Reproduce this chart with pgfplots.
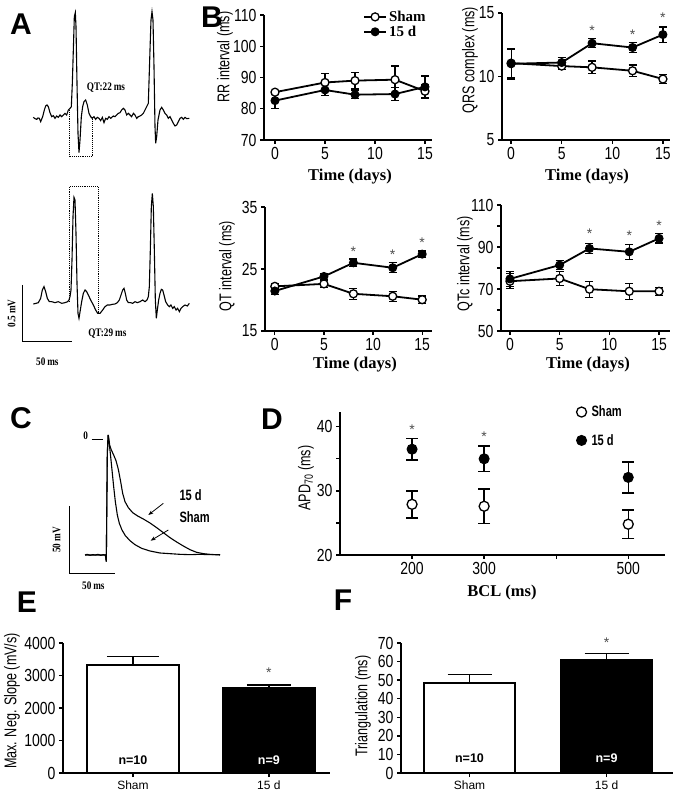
\documentclass[border=0pt]{standalone}
\usepackage{fontspec}
\usepackage{pgfplots}
\pgfplotsset{compat=1.18}
\usetikzlibrary{arrows.meta}
\setmainfont{Liberation Serif}
\setsansfont{Liberation Sans}
\newfontfamily\narrow[FakeStretch=0.74]{Liberation Sans}
\newfontfamily\ticknarrow[FakeStretch=0.8]{Liberation Sans}
\newfontfamily\narrowserif[FakeStretch=0.8]{Liberation Serif}
\newcommand{\tickfont}{\fontsize{17.5}{17.5}\selectfont\ticknarrow}
\newcommand{\yfont}{\fontsize{17}{17}\selectfont\narrow}
\newcommand{\tfont}{\fontsize{16.5}{16.5}\selectfont\rmfamily\bfseries}
\newcommand{\letterfont}{\fontsize{30}{30}\selectfont\sffamily\bfseries}
\newcommand{\legserif}{\fontsize{15}{15}\selectfont\rmfamily\bfseries}
\newcommand{\legsans}{\fontsize{15}{15}\selectfont\narrow\bfseries}
\newcommand{\catfont}{\fontsize{12}{12}\selectfont\sffamily}
\newcommand{\nfont}{\fontsize{12.5}{12.5}\selectfont\sffamily\bfseries}
\newcommand{\qtfont}{\fontsize{11.5}{11.5}\selectfont\narrowserif\bfseries}
\newcommand{\sigfont}{\fontsize{14}{14}\selectfont\sffamily}
\definecolor{stargray}{gray}{0.3}

\pgfplotsset{
  prism/.style={
    scale only axis,
    axis lines*=left,
    axis line style={line width=1.8pt,-},
    tick style={black,line width=1.3pt},
    tick align=outside,
    major tick length=4pt,
    minor tick length=4pt,
    tick label style={font=\tickfont},
    /pgf/number format/assume math mode=true,
    /pgf/number format/1000 sep={},
    scaled ticks=false,
    clip=false,
  },
  linechart/.style={prism, xtick={0,5,10,15}},
  shamline/.style={black, line width=1.8pt, mark=*, mark size=4pt,
    mark options={fill=white, draw=black, line width=1.3pt, solid},
    error bars/y dir=both, error bars/y explicit,
    error bars/error bar style={line width=1.2pt, black},
    error bars/error mark options={rotate=90, mark size=4pt, line width=1.2pt, black}},
  dline/.style={black, line width=1.8pt, mark=*, mark size=4pt,
    mark options={fill=black, draw=black, line width=1pt, solid},
    error bars/y dir=both, error bars/y explicit,
    error bars/error bar style={line width=1.2pt, black},
    error bars/error mark options={rotate=90, mark size=4pt, line width=1.2pt, black}},
  ov/.style={scale only axis, hide axis, clip=false, y dir=reverse},
}

\begin{document}
\begin{tikzpicture}
\useasboundingbox (0pt,0pt) rectangle (676pt,800pt);

% ---------------- overlay: letters and labels (px coords) ----------------
\begin{axis}[ov, at={(0pt,0pt)}, anchor=south west, width=676pt, height=800pt,
  xmin=0, xmax=676, ymin=0, ymax=800]
\addplot[draw=none] coordinates {(0,0)};
\node[font=\letterfont] at (axis cs:21,24) {A};
\node[font=\letterfont] at (axis cs:212,17) {B};
\node[font=\letterfont] at (axis cs:21,418) {C};
\node[font=\letterfont] at (axis cs:272,419) {D};
\node[font=\letterfont] at (axis cs:27,602) {E};
\node[font=\letterfont] at (axis cs:343,600) {F};
% B labels
\node[font=\yfont, rotate=90] at (axis cs:225,57) {RR interval (ms)};
\node[font=\yfont, rotate=90] at (axis cs:470,60) {QRS complex (ms)};
\node[font=\yfont, rotate=90] at (axis cs:227,266) {QT interval (ms)};
\node[font=\yfont, rotate=90] at (axis cs:465,264) {QTc interval (ms)};
\node[font=\tfont] at (axis cs:350,177) {Time (days)};
\node[font=\tfont] at (axis cs:587,177) {Time (days)};
\node[font=\tfont] at (axis cs:355,365) {Time (days)};
\node[font=\tfont] at (axis cs:588,365) {Time (days)};
% D labels
\node[font=\yfont, rotate=90] at (axis cs:306,478) {APD\textsubscript{70} (ms)};
\node[font=\tfont] at (axis cs:502,593) {BCL (ms)};
% E F labels
\node[font=\yfont, rotate=90] at (axis cs:12,701) {Max. Neg. Slope (mV/s)};
\node[font=\yfont, rotate=90] at (axis cs:363,706) {Triangulation (ms)};
\end{axis}

% ---------------- Panel A traces (zoom units: 3 per px) ----------------
\begin{axis}[ov, at={(0pt,380pt)}, anchor=south west, width=200pt, height=420pt,
  xmin=0, xmax=600, ymin=0, ymax=1260]
\addplot[black, line width=1.1pt] coordinates {
(100,352)(105,356)(110,358)(114,354)(118,355)(122,365)(128,350)(133,330)(137,318)(141,315)(145,320)(150,338)(155,350)(160,347)(165,355)(170,348)(175,352)(180,345)(185,350)(190,345)(195,340)(200,345)(205,330)(210,325)(214,320)(217,250)(220,150)(223,50)(226,38)(228,80)(231,250)(234,400)(237,458)(240,420)(244,350)(248,320)(252,305)(257,300)(262,315)(267,340)(272,350)(277,355)(282,350)(287,358)(292,352)(297,355)(302,362)(307,352)(312,368)(317,355)(322,358)(327,350)(332,355)(340,348)(345,350)(350,345)(355,340)(360,338)(365,330)(370,325)(375,330)(380,345)(385,340)(390,345)(395,350)(400,340)(405,345)(410,355)(415,350)(420,348)(425,345)(430,340)(435,330)(440,320)(445,310)(450,150)(453,60)(456,35)(459,60)(462,200)(465,380)(467,430)(470,410)(474,360)(480,330)(485,322)(490,330)(495,340)(500,345)(505,355)(510,350)(515,360)(520,370)(525,378)(530,375)(535,365)(540,355)(545,352)(550,358)(555,352)(560,356)(568,355)};
\addplot[black, line width=1.1pt] coordinates {
(100,912)(108,910)(115,908)(122,895)(127,870)(132,860)(137,875)(142,895)(148,905)(155,905)(165,908)(175,905)(185,910)(195,908)(203,905)(207,900)(210,890)(213,870)(216,780)(219,650)(222,592)(225,600)(228,700)(231,850)(234,940)(237,955)(241,930)(245,905)(250,880)(255,870)(260,875)(265,885)(272,900)(280,915)(287,930)(293,940)(300,940)(308,930)(315,920)(322,915)(330,915)(337,913)(345,912)(352,908)(358,900)(363,885)(368,870)(372,865)(376,880)(380,900)(385,908)(392,908)(398,910)(405,905)(412,908)(420,905)(428,900)(435,905)(441,900)(445,890)(448,860)(451,750)(454,620)(457,580)(460,620)(463,750)(466,900)(469,955)(472,930)(476,900)(480,880)(484,868)(488,870)(492,885)(497,905)(503,915)(508,920)(513,915)(518,925)(523,920)(528,930)(533,925)(538,935)(543,925)(548,920)(555,915)(562,918)(568,910)};
\addplot[black, line width=0.9pt, densely dotted] coordinates {(208,330)(208,470)(278,470)(278,350)};
\addplot[black, line width=0.9pt, densely dotted] coordinates {(208,905)(208,560)(295,560)(295,938)};
\addplot[black, line width=0.9pt] coordinates {(68,855)(68,1025)(215,1025)};
\node[font=\qtfont] at (axis cs:318,262) {QT:22\,ms};
\node[font=\qtfont] at (axis cs:322,1000) {QT:29\,ms};
\node[font=\qtfont, rotate=90] at (axis cs:35,940) {0.5\,mV};
\node[font=\qtfont] at (axis cs:142,1085) {50\,ms};
\end{axis}

% ---------------- Panel C traces (zoom units) ----------------
\begin{axis}[ov, at={(0pt,200pt)}, anchor=south west, width=220pt, height=180pt,
  xmin=0, xmax=660, ymin=0, ymax=540]
\addplot[black, line width=1.1pt] coordinates {
(255,405)(262,403)(270,406)(278,404)(286,405)(294,403)(302,406)(310,404)(316,405)(319,425)(320,300)(322,100)(324,45)(327,65)(331,100)(336,150)(341,200)(346,245)(352,285)(358,310)(366,330)(376,347)(390,362)(405,374)(425,385)(450,393)(480,399)(510,401)(540,403)(570,404)(600,403)(630,404)(660,404)};
\addplot[black, line width=1.1pt] coordinates {
(255,405)(316,405)(319,425)(320,300)(322,100)(325,45)(329,75)(334,90)(341,105)(348,122)(355,148)(362,185)(368,220)(375,245)(385,263)(398,278)(413,288)(430,297)(450,309)(470,323)(490,338)(510,353)(530,366)(550,378)(570,389)(590,397)(610,401)(630,403)(660,405)};
\addplot[black, line width=0.9pt] coordinates {(208,258)(208,460)(345,460)};
\addplot[black, line width=0.9pt] coordinates {(275,57)(308,57)};
\node[font=\qtfont] at (axis cs:257,48) {0};
\draw[-{Stealth[length=5pt]}, line width=0.8pt] (axis cs:490,250) -- (axis cs:445,285);
\draw[-{Stealth[length=5pt]}, line width=0.8pt] (axis cs:505,330) -- (axis cs:452,362);
\node[font=\legsans, anchor=west] at (axis cs:528,225) {15 d};
\node[font=\legsans, anchor=west] at (axis cs:528,290) {Sham};
\node[font=\qtfont, rotate=90] at (axis cs:170,360) {50\,mV};
\node[font=\qtfont] at (axis cs:280,497) {50\,ms};
\end{axis}

% ---------------- B: RR ----------------
\begin{axis}[linechart, at={(264pt,660pt)}, anchor=south west, width=168pt, height=125pt,
  xmin=-1.1, xmax=15.7, ymin=70, ymax=110, ytick={70,80,...,110},
  legend style={at={(axis cs:8.8,112)}, anchor=north west, draw=none, fill=none, font=\legserif, row sep=-1pt, inner sep=0pt},
  legend cell align=left,
  legend image code/.code={\draw[mark repeat=2,mark phase=2,#1] plot coordinates {(0pt,0pt) (11pt,0pt) (22pt,0pt)};}]
\addplot[shamline] table[x=x, y=y, y error=e, row sep=\\] {x y e\\ 0 85.3 0.6\\ 5 88.4 2.8\\ 8 89.0 2.7\\ 12 89.3 4.4\\ 15 85.6 2.2\\};
\addplot[dline] table[x=x, y=y, y error=e, row sep=\\] {x y e\\ 0 82.6 2.6\\ 5 86.0 1.8\\ 8 84.5 1.3\\ 12 84.7 2.0\\ 15 87.0 3.5\\};
\legend{Sham, 15 d}
\end{axis}

% ---------------- B: QRS ----------------
\begin{axis}[linechart, at={(502pt,660pt)}, anchor=south west, width=168pt, height=127pt,
  xmin=-0.9, xmax=15.7, ymin=5, ymax=15, ytick={5,10,15}]
\addplot[shamline] table[x=x, y=y, y error=e, row sep=\\] {x y e\\ 0 11.05 1.1\\ 5 10.82 0.3\\ 8 10.72 0.5\\ 12 10.45 0.45\\ 15 9.8 0.35\\};
\addplot[dline] table[x=x, y=y, y error=e, row sep=\\] {x y e\\ 0 11.0 1.2\\ 5 11.1 0.4\\ 8 12.62 0.35\\ 12 12.28 0.4\\ 15 13.3 0.6\\};
\node[font=\sigfont, text=stargray] at (axis cs:8,13.6) {*};
\node[font=\sigfont, text=stargray] at (axis cs:12,13.3) {*};
\node[font=\sigfont, text=stargray] at (axis cs:15,14.6) {*};
\end{axis}

% ---------------- B: QT ----------------
\begin{axis}[linechart, at={(265pt,469pt)}, anchor=south west, width=167pt, height=124pt,
  xmin=-1.0, xmax=16.0, ymin=15, ymax=35, ytick={15,25,35}]
\addplot[shamline] table[x=x, y=y, y error=e, row sep=\\] {x y e\\ 0 22.2 0.5\\ 5 22.6 0.6\\ 8 21.0 0.9\\ 12 20.6 0.8\\ 15 20.05 0.6\\};
\addplot[dline] table[x=x, y=y, y error=e, row sep=\\] {x y e\\ 0 21.45 0.5\\ 5 23.8 0.5\\ 8 26.0 0.6\\ 12 25.2 0.8\\ 15 27.4 0.5\\};
\node[font=\sigfont, text=stargray] at (axis cs:8,27.8) {*};
\node[font=\sigfont, text=stargray] at (axis cs:12,27.3) {*};
\node[font=\sigfont, text=stargray] at (axis cs:15,29.3) {*};
\end{axis}

% ---------------- B: QTc ----------------
\begin{axis}[linechart, at={(501pt,469pt)}, anchor=south west, width=169pt, height=126pt,
  xmin=-0.9, xmax=16.1, ymin=50, ymax=110, ytick={50,70,90,110}, minor ytick={60,80,100}]
\addplot[shamline] table[x=x, y=y, y error=e, row sep=\\] {x y e\\ 0 73.7 3.5\\ 5 75.0 3.5\\ 8 69.9 3.8\\ 12 68.9 3.8\\ 15 68.9 2.0\\};
\addplot[dline] table[x=x, y=y, y error=e, row sep=\\] {x y e\\ 0 74.8 3.5\\ 5 81.4 2.2\\ 8 89.3 2.5\\ 12 87.7 3.5\\ 15 94.1 2.2\\};
\node[font=\sigfont, text=stargray] at (axis cs:8,96.3) {*};
\node[font=\sigfont, text=stargray] at (axis cs:12,95.2) {*};
\node[font=\sigfont, text=stargray] at (axis cs:15,100) {*};
\end{axis}

% ---------------- D ----------------
\begin{axis}[prism, at={(340pt,245pt)}, anchor=south west, width=325pt, height=143pt,
  xmin=100, xmax=551, ymin=20, ymax=42.3,
  xtick={200,300,400,500}, xticklabels={200,300,,500},
  ytick={20,30,40}, minor ytick={25,35},
  legend style={at={(axis cs:428,43.6)}, anchor=north west, draw=none, fill=none, font=\legsans, row sep=12pt, inner sep=0pt},
  legend cell align=left,
  legend image code/.code={\draw[#1] plot coordinates {(5pt,0pt)}; \path[draw=none,fill=none] (0pt,0pt) rectangle (13pt,0.1pt);}]
\addplot[only marks, black, mark=*, mark size=5pt, mark options={fill=white, draw=black, line width=1.3pt},
  error bars/y dir=both, error bars/y explicit,
  error bars/error bar style={line width=1.5pt, black},
  error bars/error mark options={rotate=90, mark size=6pt, line width=1.5pt, black}]
  table[x=x, y=y, y error=e, row sep=\\] {x y e\\ 200 27.9 2.1\\ 300 27.6 2.7\\ 500 24.8 2.2\\};
\addplot[only marks, black, mark=*, mark size=5pt, mark options={fill=black, draw=black, line width=1pt},
  error bars/y dir=both, error bars/y explicit,
  error bars/error bar style={line width=1.5pt, black},
  error bars/error mark options={rotate=90, mark size=6pt, line width=1.5pt, black}]
  table[x=x, y=y, y error=e, row sep=\\] {x y e\\ 200 36.5 1.7\\ 300 35.0 2.0\\ 500 32.1 2.4\\};
\legend{Sham, 15 d}
\node[font=\sigfont, text=stargray] at (axis cs:200,39.6) {*};
\node[font=\sigfont, text=stargray] at (axis cs:300,38.5) {*};
\end{axis}

% ---------------- E ----------------
\begin{axis}[prism, at={(63pt,27pt)}, anchor=south west, width=267pt, height=130pt,
  xmin=0.485, xmax=2.45, ymin=0, ymax=4000, ytick={0,1000,...,4000},
  xtick={1,2}, xticklabels={Sham,15 d}, x tick label style={font=\catfont}]
\addplot[ybar, bar width=92pt, bar shift=0pt, fill=white, draw=black, line width=1.8pt,
  error bars/y dir=plus, error bars/y explicit,
  error bars/error bar style={line width=1.5pt, black},
  error bars/error mark options={rotate=90, mark size=26pt, line width=1.5pt, black}]
  coordinates {(1,3320) +- (0,270)};
\addplot[ybar, bar width=92pt, bar shift=0pt, fill=black, draw=black, line width=1.8pt,
  error bars/y dir=plus, error bars/y explicit,
  error bars/error bar style={line width=1.5pt, black},
  error bars/error mark options={rotate=90, mark size=22pt, line width=1.5pt, black}]
  coordinates {(2,2630) +- (0,75)};
\node[font=\nfont] at (axis cs:1,400) {n=10};
\node[font=\nfont, text=white] at (axis cs:2,400) {n=9};
\node[font=\sigfont, text=stargray] at (axis cs:2,3100) {*};
\end{axis}

% ---------------- F ----------------
\begin{axis}[prism, at={(401pt,27pt)}, anchor=south west, width=272pt, height=130pt,
  xmin=0.5, xmax=2.485, ymin=0, ymax=70, ytick={0,10,...,70},
  xtick={1,2}, xticklabels={Sham,15 d}, x tick label style={font=\catfont}]
\addplot[ybar, bar width=91pt, bar shift=0pt, fill=white, draw=black, line width=1.8pt,
  error bars/y dir=plus, error bars/y explicit,
  error bars/error bar style={line width=1.5pt, black},
  error bars/error mark options={rotate=90, mark size=22pt, line width=1.5pt, black}]
  coordinates {(1,48.5) +- (0,4.6)};
\addplot[ybar, bar width=91pt, bar shift=0pt, fill=black, draw=black, line width=1.8pt,
  error bars/y dir=plus, error bars/y explicit,
  error bars/error bar style={line width=1.5pt, black},
  error bars/error mark options={rotate=90, mark size=22pt, line width=1.5pt, black}]
  coordinates {(2,61.0) +- (0,3.3)};
\node[font=\nfont] at (axis cs:1,8) {n=10};
\node[font=\nfont, text=white] at (axis cs:2,8) {n=9};
\node[font=\sigfont, text=stargray] at (axis cs:2,70.3) {*};
\end{axis}
\end{tikzpicture}
\end{document}
